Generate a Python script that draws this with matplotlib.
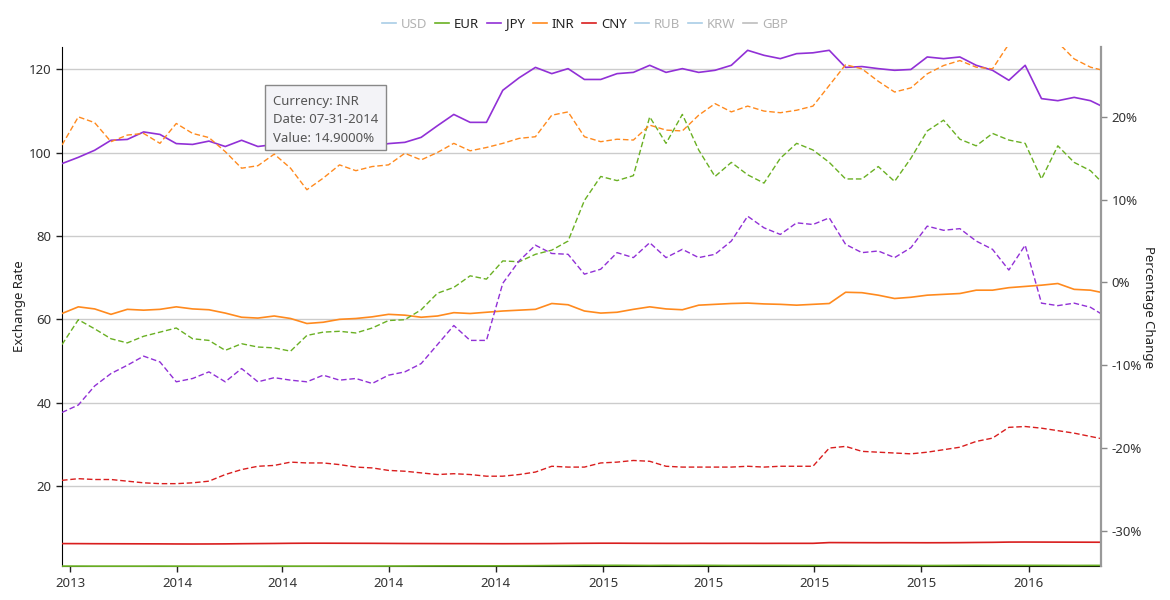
import matplotlib
matplotlib.use("Agg")
import matplotlib.pyplot as plt
import matplotlib.dates as mdates
from matplotlib.lines import Line2D
from matplotlib.patches import Rectangle
import pandas as pd

plt.rcParams['font.family'] = ['Noto Sans', 'DejaVu Sans']

# sampling dates, every two weeks
dates = pd.date_range('2013-09-24', periods=65, freq='14D')

# exchange rates (left axis)
eur_rate = [0.74, 0.74, 0.73, 0.73, 0.73, 0.73, 0.74, 0.73, 0.73, 0.72, 0.72, 0.73, 0.73,
            0.74, 0.73, 0.73, 0.73, 0.74, 0.74, 0.74, 0.75, 0.76, 0.78, 0.79, 0.80, 0.80,
            0.80, 0.81, 0.82, 0.84, 0.87, 0.89, 0.93, 0.92, 0.93, 0.91, 0.89, 0.92, 0.90,
            0.92, 0.91, 0.89, 0.90, 0.91, 0.91, 0.90, 0.91, 0.90, 0.91, 0.89, 0.89, 0.90,
            0.89, 0.88, 0.89, 0.91, 0.93, 0.92, 0.92, 0.92, 0.92, 0.91, 0.90, 0.91, 0.91]
jpy_rate = [97.4, 98.9, 100.6, 103.0, 103.2, 105.0, 104.4, 102.2, 102.0, 102.8, 101.5, 103.0,
            101.5, 102.0, 102.5, 103.0, 103.0, 102.5, 102.0, 101.5, 102.2, 102.5, 103.7,
            106.5, 109.2, 107.3, 107.3, 115.0, 118.0, 120.5, 119.0, 120.2, 117.6, 117.6,
            119.0, 119.3, 121.0, 119.3, 120.2, 119.3, 119.8, 121.0, 124.6, 123.4, 122.6,
            123.8, 124.0, 124.6, 120.5, 120.7, 120.2, 119.8, 120.0, 123.0, 122.6, 123.0,
            121.0, 119.8, 117.4, 121.0, 113.0, 112.5, 113.3, 112.5, 110.6]
inr_rate = [61.4, 63.0, 62.5, 61.2, 62.4, 62.2, 62.4, 63.0, 62.5, 62.3, 61.5, 60.5, 60.3,
            60.8, 60.2, 59.0, 59.3, 60.0, 60.2, 60.6, 61.2, 61.0, 60.5, 60.8, 61.6, 61.4,
            61.7, 62.0, 62.2, 62.4, 63.8, 63.5, 62.0, 61.5, 61.7, 62.4, 63.0, 62.5, 62.3,
            63.4, 63.6, 63.8, 63.9, 63.7, 63.6, 63.4, 63.6, 63.8, 66.5, 66.4, 65.8, 65.0,
            65.3, 65.8, 66.0, 66.2, 67.0, 67.0, 67.6, 67.9, 68.2, 68.6, 67.2, 67.0, 66.2]
cny_rate = [6.15, 6.14, 6.12, 6.11, 6.10, 6.09, 6.08, 6.06, 6.05, 6.06, 6.08, 6.12, 6.15,
            6.18, 6.22, 6.24, 6.24, 6.23, 6.22, 6.21, 6.19, 6.17, 6.16, 6.15, 6.14, 6.14,
            6.13, 6.12, 6.13, 6.14, 6.16, 6.20, 6.22, 6.24, 6.24, 6.22, 6.21, 6.20, 6.20,
            6.21, 6.20, 6.21, 6.21, 6.20, 6.21, 6.21, 6.21, 6.39, 6.38, 6.37, 6.36, 6.37,
            6.36, 6.35, 6.36, 6.38, 6.42, 6.45, 6.51, 6.52, 6.51, 6.50, 6.49, 6.48, 6.47]

# percentage change (right axis)
eur_pct = [-7.5, -4.5, -5.6, -6.8, -7.3, -6.5, -6.0, -5.5, -6.8, -7.0, -8.2, -7.4, -7.8,
           -7.9, -8.3, -6.4, -6.0, -5.9, -6.1, -5.5, -4.6, -4.5, -3.3, -1.3, -0.6, 0.8,
           0.4, 2.6, 2.5, 3.4, 3.9, 5.0, 9.9, 12.8, 12.3, 12.9, 20.0, 16.8, 20.3, 16.0,
           12.8, 14.5, 13.0, 12.0, 15.0, 16.8, 16.0, 14.5, 12.5, 12.5, 14.0, 12.2, 15.0,
           18.3, 19.6, 17.3, 16.5, 18.0, 17.2, 16.8, 12.5, 16.5, 14.5, 13.5, 11.5]
jpy_pct = [-15.7, -14.8, -12.5, -11.0, -10.0, -8.9, -9.6, -12.0, -11.6, -10.8, -12.0, -10.4,
           -12.0, -11.5, -11.8, -12.0, -11.2, -11.8, -11.6, -12.2, -11.2, -10.8, -9.8,
           -7.5, -5.2, -7.0, -7.0, -0.1, 2.6, 4.5, 3.5, 3.4, 1.0, 1.6, 3.6, 3.0, 4.8, 3.0,
           4.0, 3.0, 3.4, 5.0, 8.0, 6.6, 5.8, 7.2, 7.0, 7.8, 4.6, 3.6, 3.8, 3.0, 4.2, 6.8,
           6.3, 6.5, 5.0, 4.0, 1.5, 4.5, -2.5, -2.8, -2.5, -3.0, -4.2]
inr_pct = [16.6, 20.0, 19.3, 17.0, 17.8, 18.0, 16.8, 19.2, 18.0, 17.5, 15.8, 13.8, 14.1,
           15.5, 13.8, 11.2, 12.6, 14.2, 13.5, 14.0, 14.2, 15.6, 14.8, 15.7, 16.8, 15.9,
           16.3, 16.8, 17.4, 17.6, 20.2, 20.6, 17.6, 17.0, 17.3, 17.2, 19.0, 18.4, 18.3,
           20.2, 21.6, 20.6, 21.3, 20.7, 20.5, 20.8, 21.3, 23.8, 26.3, 25.8, 24.3, 23.0,
           23.5, 25.2, 26.2, 26.8, 26.0, 25.8, 28.8, 30.0, 29.8, 29.0, 27.0, 26.0, 25.5]
cny_pct = [-23.9, -23.7, -23.8, -23.8, -24.0, -24.2, -24.3, -24.3, -24.2, -24.0, -23.2,
           -22.6, -22.2, -22.1, -21.7, -21.8, -21.8, -22.0, -22.3, -22.4, -22.7, -22.8,
           -23.0, -23.2, -23.1, -23.2, -23.4, -23.4, -23.2, -22.9, -22.2, -22.3, -22.3,
           -21.8, -21.7, -21.5, -21.6, -22.2, -22.3, -22.3, -22.3, -22.3, -22.2, -22.3,
           -22.2, -22.2, -22.2, -20.0, -19.8, -20.4, -20.5, -20.6, -20.7, -20.5, -20.2,
           -19.9, -19.2, -18.8, -17.5, -17.4, -17.6, -17.9, -18.2, -18.6, -19.0]

currencies = ['USD', 'EUR', 'JPY', 'INR', 'CNY', 'RUB', 'KRW', 'GBP']
visible = ['EUR', 'JPY', 'INR', 'CNY']
colors = {'USD': '#a9cde6', 'EUR': '#6ab023', 'JPY': '#9130d6', 'INR': '#ff8a1e',
          'CNY': '#d91e1e', 'RUB': '#a9cde6', 'KRW': '#a9cde6', 'GBP': '#bdbdbd'}

rates = {'EUR': eur_rate, 'JPY': jpy_rate, 'INR': inr_rate, 'CNY': cny_rate}
pcts = {'EUR': eur_pct, 'JPY': jpy_pct, 'INR': inr_pct, 'CNY': cny_pct}

fig = plt.figure(figsize=(11.7, 6.0), dpi=100)
ax = fig.add_axes([0.053, 0.0562, 0.888, 0.8655])
ax2 = ax.twinx()

# clip box a little taller than the axes so the EUR rate shows on the bottom edge
clip = Rectangle((0, -0.01), 1, 1.02, transform=ax.transAxes, visible=False)
ax.add_patch(clip)

for c in visible:
    ln, = ax.plot(dates, rates[c], color=colors[c], lw=1.2, zorder=3)
    ln.set_clip_path(clip)
    ax2.plot(dates, pcts[c], color=colors[c], lw=1.0, dashes=(4.0, 2.0))

ax.set_xlim(pd.Timestamp('2013-09-24'), pd.Timestamp('2016-03-03'))
ax.set_ylim(0.7, 125.4)
ax2.set_ylim(-34.28, 28.44)

ax.set_yticks([20, 40, 60, 80, 100, 120])
ax2.set_yticks([-30, -20, -10, 0, 10, 20])
ax2.yaxis.set_major_formatter(plt.FuncFormatter(lambda v, p: f"{v:.0f}%"))
ax.xaxis.set_major_locator(mdates.MonthLocator(bymonth=[1, 4, 7, 10]))
ax.xaxis.set_major_formatter(mdates.DateFormatter('%Y'))

ax.grid(axis='y', color='#cccccc', lw=1.0)
ax.set_axisbelow(True)

for a in (ax, ax2):
    a.tick_params(labelsize=9.5, colors='#333333', length=4, width=1)
ax.tick_params(axis='both', colors='#222222', labelcolor='#333333')
ax2.tick_params(axis='y', color='#888888', labelcolor='#333333')

ax.spines['top'].set_visible(False)
ax.spines['right'].set_visible(False)
ax2.spines['top'].set_visible(False)
ax2.spines['left'].set_visible(False)
ax2.spines['bottom'].set_visible(False)
ax2.spines['right'].set_color('#999999')
ax2.spines['right'].set_linewidth(1.6)

ax.set_ylabel('Exchange Rate', fontsize=9.5, color='#222222')
ax.yaxis.set_label_coords(-0.035, 0.5)
ax2.set_ylabel('Percentage Change', fontsize=9.5, color='#222222', rotation=270)
ax2.yaxis.set_label_coords(1.052, 0.5)

# legend
handles = [Line2D([0], [0], color=colors[c], lw=1.2) for c in currencies]
leg = fig.legend(handles, currencies, loc='center', bbox_to_anchor=(0.5, 0.96), ncol=8,
                 frameon=False, fontsize=9.5, handlelength=1.05, handletextpad=0.38,
                 columnspacing=0.6)
for t, c in zip(leg.get_texts(), currencies):
    t.set_color('#222222' if c in visible else '#b3b3b3')

# tooltip
fig.patches.append(Rectangle((265 / 1170, 1 - 150 / 600), 121 / 1170, 65 / 600,
                             transform=fig.transFigure, facecolor='#f3f3f7',
                             edgecolor='#888888', lw=1.0, zorder=10))
tip_lines = ['Currency: INR', 'Date: 07-31-2014', 'Value: 14.9000%']
for k, line in enumerate(tip_lines):
    fig.text(273 / 1170, 1 - (101 + k * 18.5) / 600, line, fontsize=9.5,
             color='#555555', va='center', ha='left', zorder=11)

plt.savefig('out.png', dpi=100)
